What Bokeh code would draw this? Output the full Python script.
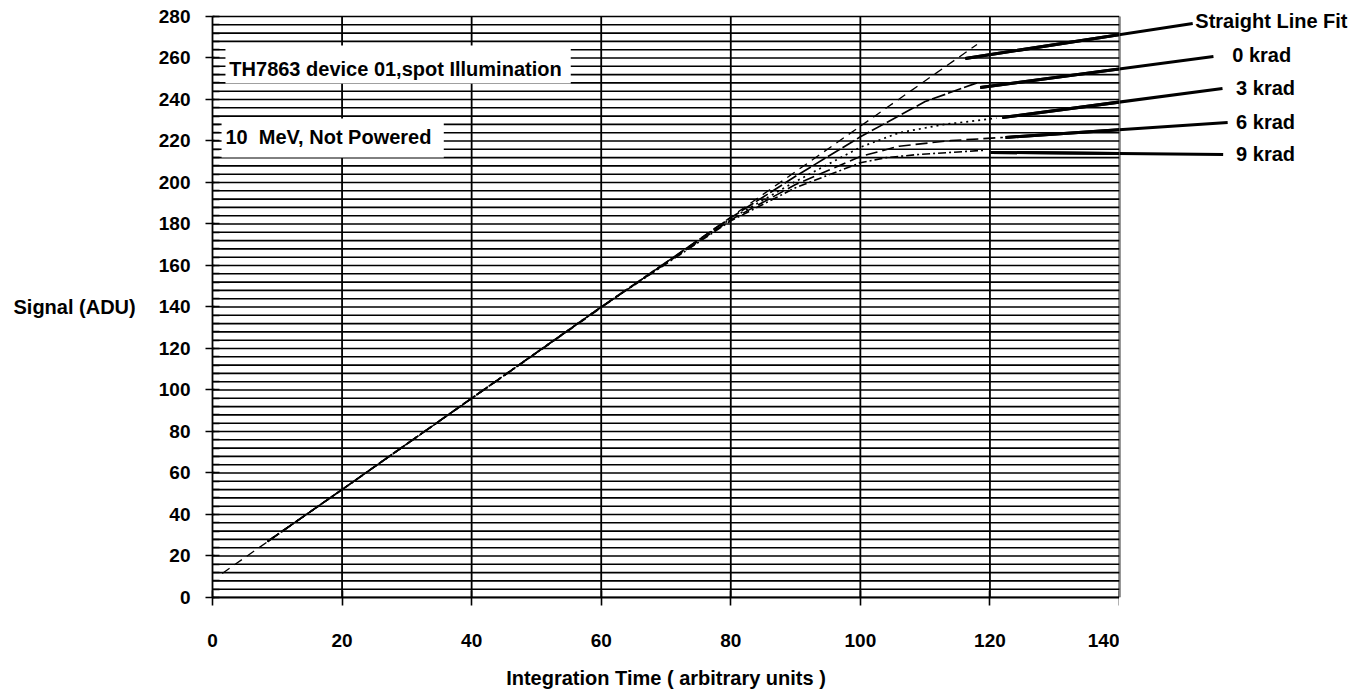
from bokeh.plotting import figure
from bokeh.models import FixedTicker, Range1d
from bokeh.layouts import row
from bokeh.core.properties import value
from bokeh.embed import file_html
from bokeh.resources import INLINE

# ---- data ----
fit_x = [1.5, 118.0]
fit_y = [11.6, 266.5]

k0_x = [8.5, 20, 40, 60, 80, 90, 100, 110, 118]
k0_y = [27, 52, 96, 140, 183, 203, 222, 239, 248]

k3_x = [8.5, 20, 40, 60, 80, 90, 100, 106, 113, 121]
k3_y = [27, 52, 96, 140, 182.5, 200.5, 217, 224, 228, 231]

k6_x = [8.5, 20, 40, 60, 80, 90, 100, 106, 114, 122]
k6_y = [27, 52, 96, 140, 182, 199, 212.5, 217.5, 220.2, 221.7]

k9_x = [8.5, 20, 40, 60, 80, 90, 100, 104, 109, 119]
k9_y = [27, 52, 96, 140, 181.5, 197.5, 209.5, 212, 213.5, 215.5]

series_labels = ["Straight Line Fit", "0 krad", "3 krad", "6 krad", "9 krad"]
x_ticks = [0, 20, 40, 60, 80, 100, 120, 140]
y_ticks = list(range(0, 281, 20))
y_minor = list(range(0, 281, 4))

FONT = value("Liberation Sans")
Y0, Y1 = 0, 287.7
PXU = 907 / 140.0  # pixels per x unit


def make_fig(frame_w, xr, border_left=0):
    f = figure(frame_width=frame_w, frame_height=597, x_range=xr,
               y_range=Range1d(Y0, Y1), output_backend="svg", toolbar_location=None,
               min_border_left=border_left, min_border_right=0, min_border_top=0,
               min_border_bottom=96, background_fill_color="white",
               border_fill_color="white", outline_line_color=None,
               x_axis_type=None if border_left == 0 else "linear",
               y_axis_type=None if border_left == 0 else "linear")
    f.grid.visible = False
    return f


# ---- left strip with the y-axis title ----
f0 = make_fig(150, Range1d(0, 150))
f0.text(x=[13], y=[140], text=["Signal (ADU)"], text_font=FONT, text_font_style="bold",
        text_font_size="20px", text_baseline="middle", text_align="left", text_color="black")

# ---- main chart ----
p = make_fig(907, Range1d(0, 140), border_left=62)
right_w = 1363 - 150 - 62 - 907
p2 = make_fig(right_w, Range1d(140, 140 + right_w / PXU))

vx = x_ticks[1:]
lead_x0 = [116.2, 118.5, 121.9, 122.4, 120.1]
lead_y0 = [259.8, 245.8, 231.3, 221.7, 214.5]
lead_x1 = [151.3, 154.5, 155.9, 156.7, 156.0]
lead_y1 = [276.6, 260.7, 245.3, 228.9, 213.5]

for f in (p, p2):
    f.segment(x0=0, y0=y_minor, x1=140, y1=y_minor, line_color="black", line_width=1.6)
    f.segment(x0=vx, y0=0, x1=vx, y1=280, line_color="black", line_width=1.8)
    f.segment(x0=lead_x0, y0=lead_y0, x1=lead_x1, y1=lead_y1, line_color="black", line_width=3)

# white boxes for the annotations
p.quad(left=[2.0, 1.4], right=[55.3, 35.7], top=[266.0, 230.8], bottom=[247.7, 212.0],
       fill_color="white", line_color=None)
p.text(x=[2.6, 2.0], y=[254.9, 221.7],
       text=["TH7863 device 01,spot Illumination", "10\u00a0 MeV, Not Powered"],
       text_font=FONT, text_font_style="bold", text_font_size="20px",
       text_baseline="middle", text_align="left", text_color="black")

# curves
p.line(fit_x, fit_y, line_color="black", line_width=1.3, line_dash="9 6")
p.line(k0_x, k0_y, line_color="black", line_width=1.7, line_dash="14 3")
p.line(k3_x, k3_y, line_color="black", line_width=1.7, line_dash="2 4")
p.line(k6_x, k6_y, line_color="black", line_width=1.6, line_dash="12 5")
p.line(k9_x, k9_y, line_color="black", line_width=1.6, line_dash="8 3 2 3")

# redraw leaders on top of the curves
p.segment(x0=lead_x0, y0=lead_y0, x1=lead_x1, y1=lead_y1, line_color="black", line_width=3)

p2.text(x=[151.7, 157.4, 158.0, 158.0, 158.0], y=[278.0, 261.2, 245.3, 229.0, 213.5],
        text=series_labels, text_font=FONT, text_font_style="bold", text_font_size="20px",
        text_baseline="middle", text_align="left", text_color="black")

# axes
xa = p.xaxis[0]
xa.bounds = (0, 140)
xa.ticker = FixedTicker(ticks=x_ticks, minor_ticks=[])
xa.major_tick_in = 7
xa.major_tick_out = 8
xa.minor_tick_in = 0
xa.minor_tick_out = 0
xa.axis_line_width = 1.8
xa.axis_line_color = "black"
xa.major_tick_line_color = "black"
xa.major_tick_line_width = 1.6
xa.major_label_standoff = 28
xa.major_label_text_font = "Liberation Sans"
xa.major_label_text_font_style = "bold"
xa.major_label_text_font_size = "19px"
xa.major_label_text_color = "black"
xa.axis_label = "Integration Time ( arbitrary units )"
xa.axis_label_text_font = "Liberation Sans"
xa.axis_label_text_font_style = "bold"
xa.axis_label_text_font_size = "20px"
xa.axis_label_text_color = "black"
xa.axis_label_standoff = 17

ya = p.yaxis[0]
ya.bounds = (0, 280)
ya.ticker = FixedTicker(ticks=y_ticks, minor_ticks=y_minor)
ya.major_tick_in = 2
ya.major_tick_out = 7
ya.minor_tick_in = 7
ya.minor_tick_out = 0
ya.axis_line_width = 1.8
ya.axis_line_color = "black"
ya.major_tick_line_color = "black"
ya.minor_tick_line_color = "black"
ya.major_tick_line_width = 1.6
ya.minor_tick_line_width = 1.3
ya.major_label_standoff = 15
ya.major_label_text_font = "Liberation Sans"
ya.major_label_text_font_style = "bold"
ya.major_label_text_font_size = "19px"
ya.major_label_text_color = "black"

layout = row(f0, p, p2, spacing=0)
open("out.html", "w").write(file_html(layout, INLINE))
